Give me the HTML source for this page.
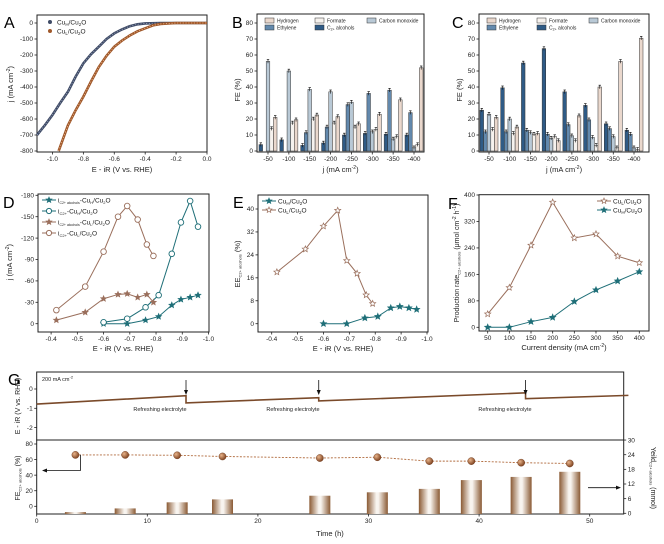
<!DOCTYPE html>
<html><head><meta charset="utf-8"><style>
html,body{margin:0;padding:0;background:#fff;}
svg{display:block;font-family:"Liberation Sans",Arial,sans-serif;}
</style></head><body>
<svg id="fig" width="664" height="544" viewBox="0 0 664 544" xmlns="http://www.w3.org/2000/svg">
<defs>
<linearGradient id="gbar" x1="0" x2="1" y1="0" y2="0">
<stop offset="0" stop-color="#8a5a34"/><stop offset="0.45" stop-color="#f8f4ef"/><stop offset="0.55" stop-color="#f8f4ef"/><stop offset="1" stop-color="#8a5a34"/>
</linearGradient>
<radialGradient id="gball" cx="0.35" cy="0.35" r="0.7"><stop offset="0" stop-color="#e9b48a"/><stop offset="1" stop-color="#7a3e1c"/></radialGradient>
</defs>
</svg>
<script>
// ---------- DATA ----------
const aE_H=[-1.1,-1.05,-1.0,-0.95,-0.9,-0.85,-0.8,-0.75,-0.7,-0.65,-0.6,-0.55,-0.5,-0.45,-0.4,-0.3,-0.2,0];
const aJ_H=[-700,-640,-575,-500,-430,-335,-252,-195,-148,-100,-65,-40,-20,-8,-3,0,0,0];
const aE_L=[-0.96,-0.9,-0.85,-0.8,-0.75,-0.7,-0.65,-0.6,-0.55,-0.5,-0.45,-0.4,-0.35,-0.3,-0.2,0];
const aJ_L=[-800,-640,-545,-460,-365,-275,-205,-148,-110,-78,-52,-33,-15,-6,0,0];
const cats=['-50','-100','-150','-200','-250','-300','-350','-400'];
const seriesNames=['C2+ alcohols','Ethylene','Carbon monoxide','Formate','Hydrogen'];
const bAlc=[4,7,3.5,5,10,11,10.5,10];
const bEth=[0,0,11.5,15,29,36,38,24];
const bCO=[56,50,38.5,37,30.5,12,7.5,2];
const bFor=[14,17.5,20,17.5,15,13.5,9,4];
const bH2=[21,19.5,22.5,21.5,17,23,32,52];
const cAlc=[25.5,39.5,55,64,37,28.5,17,13];
const cEth=[12,12,13,10.5,16.5,19.5,14,10.5];
const cCO=[23,20,11.5,8,9.5,8.5,9,2];
const cFor=[13.5,11,10.5,9,6.5,3.5,2,1];
const cH2=[21,15,11,6.5,22,40,56,70.5];
const dE_H=[-0.6,-0.69,-0.76,-0.81,-0.86,-0.895,-0.93,-0.96];
const dAlc_H=[0,0,5,10,26,34,37,40];
const dC2_H=[2,7,23,40,98,142,172,136];
const dE_L=[-0.42,-0.53,-0.6,-0.655,-0.69,-0.73,-0.765,-0.79];
const dAlc_L=[5,16,35,41,42,37,41,30];
const dC2_L=[19,52,101,150,165,146,111,95];
const eEE_L=[18,26,34,39.5,22,17.5,10,7];
const eEE_H=[0,0,2,2.5,5.5,6,5.5,5];
const fJ=[50,100,150,200,250,300,350,400];
const fRate_L=[40,120,248,378,270,282,215,195];
const fRate_H=[0,0,17,30,78,113,140,168];
const gT=[0,13.5,13.5,25.5,25.5,44.2,44.2,53.5];
const gE=[-0.78,-0.35,-0.72,-0.45,-0.62,-0.2,-0.5,-0.33];
const gPtT=[3.5,8,12.7,16.8,25.6,30.8,35.5,39.3,43.8,48.2];
const gFE=[66,66,65.5,64,62,63,58,58,56,55];
const gYield=[0.5,2,4.5,5.7,7.2,8.6,10,13.6,14.9,17];
const gRefresh=[13.5,25.5,44.2];

// ---------- HELPERS ----------
const svg=document.getElementById('fig');
const NS='http://www.w3.org/2000/svg';
function mk(tag,at,par){const e=document.createElementNS(NS,tag);for(const k in at)e.setAttribute(k,at[k]);(par||svg).appendChild(e);return e;}
function lin(d0,d1,r0,r1){return v=>r0+(v-d0)*(r1-r0)/(d1-d0);}
function txt(x,y,s,size,anchor,par,rot){const t=mk('text',{x:x,y:y,'font-size':size,'text-anchor':anchor||'middle',fill:'#222'},par);if(rot)t.setAttribute('transform','rotate('+rot+' '+x+' '+y+')');t.innerHTML=s;return t;}
function frame(x0,y0,x1,y1){const r=mk('rect',{x:x0,y:y0,width:x1-x0,height:y1-y0,fill:'none',stroke:'#222','stroke-width':1});

return r;}
function xticks(vals,sx,y,fmt,size){const g=mk('g',{});


vals.forEach(v=>{const x=sx(v);mk('line',{x1:x,x2:x,y1:y,y2:y+2.5,stroke:'#222','stroke-width':0.8},g);txt(x,y+9,fmt(v),size||6.5,'middle',g);});return g;}
function yticks(vals,sy,x,fmt,size,right){const g=mk('g',{});


vals.forEach(v=>{const y=sy(v);mk('line',{x1:x,x2:right?x+2.5:x-2.5,y1:y,y2:y,stroke:'#222','stroke-width':0.8},g);txt(right?x+4:x-4,y+2.2,fmt(v),size||6.5,right?'start':'end',g);});return g;}
function star(cx,cy,r,fill,stroke,par){let p='';for(let i=0;i<10;i++){const a=-Math.PI/2+i*Math.PI/5;const rr=i%2?r*0.45:r;p+=(i?'L':'M')+(cx+rr*Math.cos(a)).toFixed(2)+' '+(cy+rr*Math.sin(a)).toFixed(2);}return mk('path',{d:p+'Z',fill:fill,stroke:stroke,'stroke-width':0.7},par);}
function line(xs,ys,sx,sy,color,par,w,dash){const pts=xs.map((x,i)=>sx(x).toFixed(2)+','+sy(ys[i]).toFixed(2)).join(' ');const l=mk('polyline',{points:pts,fill:'none',stroke:color,'stroke-width':w||1},par);if(dash)l.setAttribute('stroke-dasharray',dash);return l;}
function label(x,y,s,size){const t=txt(x,y,s,size||16,'start');t.setAttribute('fill','#000');

return t;}

// ---------- PANEL A ----------
{
const sx=lin(-1.1,0,37,207), sy=lin(0,-800,23,151);
frame(37,15,207,152);
label(4,28,'A');
xticks([-1.0,-0.8,-0.6,-0.4,-0.2,0.0],sx,152,v=>v.toFixed(1));
yticks([0,-100,-200,-300,-400,-500,-600,-700,-800],sy,37,v=>v);
const xl=txt(122,172,'E - iR (V vs. RHE)',7.5);


const yl=txt(13,84,'j (mA cm<tspan dy="-3" font-size="5">-2</tspan><tspan dy="3">)</tspan>',7.5,'middle',svg,-90);


const gH=mk('g',{});


line(aE_H,aJ_H,sx,sy,'#3f4b66',gH,2.6);
line(aE_H,aJ_H,sx,sy,'#9aa4bd',gH,0.8,'1.2 1.6');
const gL=mk('g',{});


line(aE_L,aJ_L,sx,sy,'#a0582a',gL,2.6);
line(aE_L,aJ_L,sx,sy,'#e8b890',gL,0.8,'1.2 1.6');
const lg=mk('g',{});


mk('circle',{cx:50,cy:22,r:2,fill:'#3f4b66'},lg);txt(57,24.5,'Cu<tspan dy="1.5" font-size="4.5">H</tspan><tspan dy="-1.5">/Cu</tspan><tspan dy="1.5" font-size="4.5">2</tspan><tspan dy="-1.5">O</tspan>',6.5,'start',lg);
mk('circle',{cx:50,cy:31,r:2,fill:'#a0582a'},lg);txt(57,33.5,'Cu<tspan dy="1.5" font-size="4.5">L</tspan><tspan dy="-1.5">/Cu</tspan><tspan dy="1.5" font-size="4.5">2</tspan><tspan dy="-1.5">O</tspan>',6.5,'start',lg);
}

// ---------- PANELS B & C ----------
const barColors=['#2f5b86','#6389ad','#b9c9d6','#f6f2ee','#ead8cd'];
function barPanel(x0,x1,c0,c1,series,letter,lx){
 const sy=lin(0,80,151,23), sx=lin(0,7,c0,c1);
 frame(x0,14,x1,152);
 label(lx,28,letter);
 yticks([0,10,20,30,40,50,60,70,80],sy,x0,v=>v);
 const xt=mk('g',{});
 
 
 cats.forEach((c,i)=>{const x=sx(i);mk('line',{x1:x,x2:x,y1:152,y2:154.5,stroke:'#222','stroke-width':0.8},xt);txt(x,161,c,6.5,'middle',xt);});
 const xl=txt((x0+x1)/2,172,'j (mA cm<tspan dy="-3" font-size="5">-2</tspan><tspan dy="3">)</tspan>',7.5);
 
 
 const yl=txt(x0-17,90,'FE (%)',7.5,'middle',svg,-90);
 
 
 const bw=3.6;
 series.forEach((arr,si)=>{
  const g=mk('g',{});
  
  
  arr.forEach((v,i)=>{const x=sx(i)+(si-2)*bw-bw/2;const y=sy(v);
   const r=mk('rect',{x:x,y:y,width:bw,height:Math.max(0,sy(0)-y),fill:barColors[si],stroke:'#333','stroke-width':0.5},g);
   
   
   if(v>0.5){mk('line',{x1:x+bw/2,x2:x+bw/2,y1:y-1.8,y2:y+1.8,stroke:'#111','stroke-width':0.6},g);mk('line',{x1:x+0.6,x2:x+bw-0.6,y1:y-1.8,y2:y-1.8,stroke:'#111','stroke-width':0.7},g);}
  });
 });
 const lg=mk('g',{});
 
 
 const items=[[4,x0+8,18,'Hydrogen'],[3,x0+58,18,'Formate'],[2,x0+110,18,'Carbon monoxide'],[1,x0+8,25,'Ethylene'],[0,x0+58,25,'C<tspan dy="1" font-size="3.5">2+</tspan><tspan dy="-1"> alcohols</tspan>']];
 items.forEach(it=>{mk('rect',{x:it[1],y:it[2],width:9,height:5,fill:barColors[it[0]],stroke:'#333','stroke-width':0.5},lg);txt(it[1]+12,it[2]+4.5,it[3],5,'start',lg);});
}
barPanel(257,424,268,414,[bAlc,bEth,bCO,bFor,bH2],'B',232);
barPanel(479,649,489,634,[cAlc,cEth,cCO,cFor,cH2],'C',452);

// ---------- PANEL D ----------
const teal='#1f6f78', brown='#9a6f5c';
{
const sx=lin(-0.35,-1.0,38,208.5), sy=lin(0,180,323.7,195.3);
frame(38,194,209,332);
label(3,208,'D');
xticks([-0.4,-0.5,-0.6,-0.7,-0.8,-0.9,-1.0],sx,332,v=>v.toFixed(1));
yticks([0,30,60,90,120,150,180],sy,38,v=>v?'-'+v:'0');
const xl=txt(123,351,'E - iR (V vs. RHE)',7.5);


const yl=txt(12,262,'j (mA cm<tspan dy="-3" font-size="5">-2</tspan><tspan dy="3">)</tspan>',7.5,'middle',svg,-90);


const defs=[[dE_H,dAlc_H,teal,'star','series-cuh-c2-alcohols'],[dE_H,dC2_H,teal,'circle','series-cuh-c2'],[dE_L,dAlc_L,brown,'star','series-cul-c2-alcohols'],[dE_L,dC2_L,brown,'circle','series-cul-c2']];
defs.forEach(d=>{const g=mk('g',{});
 
 
 line(d[0],d[1],sx,sy,d[2],g,1);
 d[0].forEach((x,i)=>{if(d[3]==='star')star(sx(x),sy(d[1][i]),3,d[2],d[2],g);else mk('circle',{cx:sx(x),cy:sy(d[1][i]),r:2.8,fill:'#fff',stroke:d[2],'stroke-width':0.9},g);});
});
const lg=mk('g',{});


const labs=[['star',teal,'i<tspan dy="1.5" font-size="3.5">C2+ alcohols</tspan><tspan dy="-1.5">-Cu</tspan><tspan dy="1.5" font-size="4">H</tspan><tspan dy="-1.5">/Cu</tspan><tspan dy="1.5" font-size="4">2</tspan><tspan dy="-1.5">O</tspan>'],['circle',teal,'i<tspan dy="1.5" font-size="4">C2+</tspan><tspan dy="-1.5">-Cu</tspan><tspan dy="1.5" font-size="4">H</tspan><tspan dy="-1.5">/Cu</tspan><tspan dy="1.5" font-size="4">2</tspan><tspan dy="-1.5">O</tspan>'],['star',brown,'i<tspan dy="1.5" font-size="3.5">C2+ alcohols</tspan><tspan dy="-1.5">-Cu</tspan><tspan dy="1.5" font-size="4">L</tspan><tspan dy="-1.5">/Cu</tspan><tspan dy="1.5" font-size="4">2</tspan><tspan dy="-1.5">O</tspan>'],['circle',brown,'i<tspan dy="1.5" font-size="4">C2+</tspan><tspan dy="-1.5">-Cu</tspan><tspan dy="1.5" font-size="4">L</tspan><tspan dy="-1.5">/Cu</tspan><tspan dy="1.5" font-size="4">2</tspan><tspan dy="-1.5">O</tspan>']];
labs.forEach((l,i)=>{const y=200+i*11;mk('line',{x1:42,x2:56,y1:y,y2:y,stroke:l[1],'stroke-width':1},lg);if(l[0]==='star')star(49,y,3,l[1],l[1],lg);else mk('circle',{cx:49,cy:y,r:2.6,fill:'#fff',stroke:l[1]},lg);txt(58,y+2.5,l[2],6.5,'start',lg);});
}

// ---------- PANEL E ----------
{
const sx=lin(-0.4,-1.0,271.7,427), sy=lin(0,40,323.7,209);
frame(258,195,428,332);
label(233,208,'E');
xticks([-0.4,-0.5,-0.6,-0.7,-0.8,-0.9,-1.0],sx,332,v=>v.toFixed(1));
yticks([0,8,16,24,32,40],sy,258,v=>v);
const xl=txt(343,351,'E - iR (V vs. RHE)',7.5);


const yl=txt(240,264,'EE<tspan dy="1.5" font-size="4">C2+ alcohols</tspan><tspan dy="-1.5"> (%)</tspan>',7.5,'middle',svg,-90);


const gL=mk('g',{});


line(dE_L,eEE_L,sx,sy,brown,gL,1);dE_L.forEach((x,i)=>star(sx(x),sy(eEE_L[i]),3.2,'#fff',brown,gL));
const gH=mk('g',{});


line(dE_H,eEE_H,sx,sy,teal,gH,1);dE_H.forEach((x,i)=>star(sx(x),sy(eEE_H[i]),3.2,teal,teal,gH));
const lg=mk('g',{});


mk('line',{x1:262,x2:276,y1:201,y2:201,stroke:teal},lg);star(269,201,3,teal,teal,lg);txt(278,203.5,'Cu<tspan dy="1.5" font-size="4.5">H</tspan><tspan dy="-1.5">/Cu</tspan><tspan dy="1.5" font-size="4.5">2</tspan><tspan dy="-1.5">O</tspan>',6.5,'start',lg);
mk('line',{x1:262,x2:276,y1:210,y2:210,stroke:brown},lg);star(269,210,3,'#fff',brown,lg);txt(278,212.5,'Cu<tspan dy="1.5" font-size="4.5">L</tspan><tspan dy="-1.5">/Cu</tspan><tspan dy="1.5" font-size="4.5">2</tspan><tspan dy="-1.5">O</tspan>',6.5,'start',lg);
}

// ---------- PANEL F ----------
{
const sx=lin(50,400,487.7,639.3), sy=lin(0,400,327.3,195);
frame(479,194.7,649,331);
label(448,209,'F');
xticks(fJ,sx,331,v=>v);
yticks([0,80,160,240,320,400],sy,479,v=>v);
const xl=txt(564,350,'Current density (mA cm<tspan dy="-3" font-size="5">-2</tspan><tspan dy="3">)</tspan>',7.5);


const yl=txt(459,263,'Production rate<tspan dy="1.5" font-size="4">C2+ alcohols</tspan><tspan dy="-1.5"> (μmol cm</tspan><tspan dy="-3" font-size="5">-2</tspan><tspan dy="3"> h</tspan><tspan dy="-3" font-size="5">-1</tspan><tspan dy="3">)</tspan>',7,'middle',svg,-90);


const gL=mk('g',{});


line(fJ,fRate_L,sx,sy,brown,gL,1);fJ.forEach((x,i)=>star(sx(x),sy(fRate_L[i]),3.2,'#fff',brown,gL));
const gH=mk('g',{});


line(fJ,fRate_H,sx,sy,teal,gH,1);fJ.forEach((x,i)=>star(sx(x),sy(fRate_H[i]),3.2,teal,teal,gH));
const lg=mk('g',{});


mk('line',{x1:597,x2:611,y1:201,y2:201,stroke:brown},lg);star(604,201,3,'#fff',brown,lg);txt(613,203.5,'Cu<tspan dy="1.5" font-size="4.5">L</tspan><tspan dy="-1.5">/Cu</tspan><tspan dy="1.5" font-size="4.5">2</tspan><tspan dy="-1.5">O</tspan>',6.5,'start',lg);
mk('line',{x1:597,x2:611,y1:210,y2:210,stroke:teal},lg);star(604,210,3,teal,teal,lg);txt(613,212.5,'Cu<tspan dy="1.5" font-size="4.5">H</tspan><tspan dy="-1.5">/Cu</tspan><tspan dy="1.5" font-size="4.5">2</tspan><tspan dy="-1.5">O</tspan>',6.5,'start',lg);
}

// ---------- PANEL G ----------
{
const sx=lin(0,50,36.7,589.7);
const syE=lin(0,-1,389,408.3);
const syF=lin(0,80,506.3,444);
const syY=lin(0,24,513.3,454.7);
frame(36.7,372,623.7,440);
frame(36.7,440,623.7,514);
label(8,385,'G');
yticks([0,-1,-2],syE,36.7,v=>v);
yticks([0,20,40,60,80],syF,36.7,v=>v);
yticks([0,6,12,18,24,30],syY,623.7,v=>v,6.5,true);
xticks([0,10,20,30,40,50],sx,514,v=>v);
const xl=txt(330,536,'Time (h)',7.5);


const yl1=txt(20,406,'E - iR (V vs. RHE)',7,'middle',svg,-90);


const yl2=txt(20,478,'FE<tspan dy="1.5" font-size="4">C2+ alcohols</tspan><tspan dy="-1.5"> (%)</tspan>',7,'middle',svg,-90);


const yl3=txt(651,478,'Yeild<tspan dy="1.5" font-size="4">C2+ alcohols</tspan><tspan dy="-1.5"> (mmol)</tspan>',7,'middle',svg,90);


const cd=txt(42,381,'200 mA cm<tspan dy="-2.5" font-size="4">-2</tspan>',5.5,'start');


const gp=mk('g',{});


line(gT,gE,sx,syE,'#7a4a2a',gp,1.6);
const textX=[160,293,505];
gRefresh.forEach((t,i)=>{const x=sx(t);const a=mk('g',{});
 
 
 mk('line',{x1:x,x2:x,y1:380,y2:393,stroke:'#111','stroke-width':0.8},a);
 mk('path',{d:'M'+(x-2)+' 390 L'+x+' 395 L'+(x+2)+' 390Z',fill:'#111'},a);
 txt(textX[i],411,'Refreshing electrolyte',5.5,'middle',a);});
const gb=mk('g',{});


gPtT.forEach((t,i)=>{const y=syY(gYield[i]);const r=mk('rect',{x:sx(t)-10.5,y:y,width:21,height:Math.max(0,514-y),fill:'url(#gbar)'},gb);
 
 });
const gf=mk('g',{});


line(gPtT,gFE,sx,syF,'#b06a3c',gf,0.9,'2 1.5');
gPtT.forEach((t,i)=>{const c=mk('circle',{cx:sx(t),cy:syF(gFE[i]),r:3.6,fill:'url(#gball)',stroke:'#6a3518','stroke-width':0.4},gf);
 
 });
const ar=mk('g',{});


const px=sx(gPtT[0])+5;
mk('polyline',{points:px+','+syF(gFE[0])+' '+px+','+syF(46)+' 45,'+syF(46),fill:'none',stroke:'#111','stroke-width':0.8},ar);
mk('path',{d:'M42 '+syF(46)+' l5 -2 v4z',fill:'#111'},ar);
const ry=syY(10.5);
mk('line',{x1:588,x2:618,y1:ry,y2:ry,stroke:'#111','stroke-width':0.8},ar);
mk('path',{d:'M621 '+ry+' l-5 -2 v4z',fill:'#111'},ar);
}
</script>
</body></html>
